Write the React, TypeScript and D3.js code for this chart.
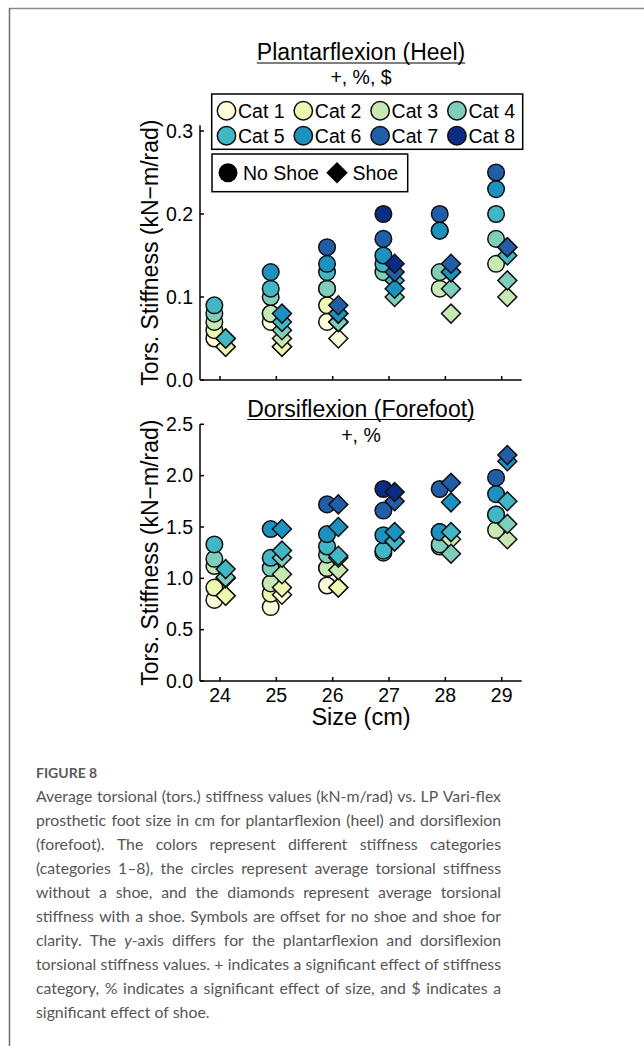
import React from "react";
import * as d3 from "d3";

const sizes = [24, 25, 26, 27, 28, 29];
const categories = ["Cat 1", "Cat 2", "Cat 3", "Cat 4", "Cat 5", "Cat 6", "Cat 7", "Cat 8"];
const catColors = ["#ffffd9", "#edf8b1", "#c7e9b4", "#7fcdbb", "#41b6c4", "#1d91c0", "#225ea8", "#0c2c84"];

type V = number | null;
// rows = categories 1..8, columns = sizes 24..29
const heelNoShoe: V[][] = [
  [0.05, 0.07, 0.07, null, null, null],
  [0.06, 0.08, 0.09, null, null, null],
  [0.07, 0.08, 0.11, null, 0.11, 0.14],
  [0.08, 0.10, 0.11, 0.13, 0.13, 0.17],
  [0.09, 0.11, 0.13, 0.14, 0.18, 0.20],
  [null, 0.13, 0.14, 0.15, 0.18, 0.23],
  [null, null, 0.16, 0.17, 0.20, 0.25],
  [null, null, null, 0.20, null, null],
];
const heelShoe: V[][] = [
  [0.04, 0.04, 0.05, null, null, null],
  [0.04, 0.04, 0.07, null, null, null],
  [0.05, 0.05, 0.07, null, 0.08, 0.10],
  [0.05, 0.06, 0.07, 0.10, 0.11, 0.12],
  [0.05, 0.07, 0.08, 0.12, 0.13, 0.15],
  [null, 0.08, 0.08, 0.11, 0.13, 0.16],
  [null, null, 0.09, 0.13, 0.14, 0.16],
  [null, null, null, 0.14, null, null],
];
const foreNoShoe: V[][] = [
  [0.79, 0.72, 0.93, null, null, null],
  [0.91, 0.85, 1.10, null, null, null],
  [1.12, 0.95, 1.10, null, 1.31, 1.47],
  [1.19, 1.10, 1.23, 1.25, 1.33, 1.62],
  [1.33, 1.20, 1.31, 1.27, 1.45, 1.62],
  [null, 1.48, 1.43, 1.42, 1.45, 1.82],
  [null, null, 1.72, 1.66, 1.87, 1.98],
  [null, null, null, 1.87, null, null],
];
const foreShoe: V[][] = [
  [0.83, 0.84, 0.91, null, null, null],
  [0.83, 0.91, 0.91, null, null, null],
  [1.00, 1.04, 1.08, null, 1.38, 1.38],
  [1.01, 1.20, 1.20, 1.36, 1.24, 1.53],
  [1.09, 1.27, 1.22, 1.36, 1.45, 1.75],
  [null, 1.48, 1.50, 1.45, 1.74, 2.14],
  [null, null, 1.72, 1.75, 1.93, 2.20],
  [null, null, null, 1.84, null, null],
];

const heelTicks = [0, 0.1, 0.2, 0.3];
const foreTicks = [0, 0.5, 1.0, 1.5, 2.0, 2.5];

const yLabel = "Tors. Stiffness (kN\u2212m/rad)";
const xLabel = "Size (cm)";
const heelTitle = "Plantarflexion (Heel)";
const heelSub = "+, %, $";
const foreTitle = "Dorsiflexion (Forefoot)";
const foreSub = "+, %";

const figureLabel = "FIGURE 8";
const captionLines = [
  "Average torsional (tors.) stiffness values (kN-m/rad) vs. LP Vari-flex",
  "prosthetic foot size in cm for plantarflexion (heel) and dorsiflexion",
  "(forefoot). The colors represent different stiffness categories",
  "(categories 1\u20138), the circles represent average torsional stiffness",
  "without a shoe, and the diamonds represent average torsional",
  "stiffness with a shoe. Symbols are offset for no shoe and shoe for",
  "clarity. The *y*-axis differs for the plantarflexion and dorsiflexion",
  "torsional stiffness values. + indicates a significant effect of stiffness",
  "category, % indicates a significant effect of size, and $ indicates a",
  "significant effect of shoe.",
];

const AX = "'Liberation Sans', Arial, Helvetica, sans-serif";
const CAP_FONT = "Lato, 'Open Sans', sans-serif";

let _ctx: CanvasRenderingContext2D | null = null;
function measure(t: string, font: string) {
  if (!_ctx) _ctx = document.createElement("canvas").getContext("2d");
  if (!_ctx) return t.length * 7;
  _ctx.font = font;
  return _ctx.measureText(t).width;
}

const xScale = d3.scaleLinear().domain([23.645, 29.355]).range([200, 521.7]);
const OFF = 0.1;
const diamondPath = d3.symbol(d3.symbolSquare, 180)() as string;
const diamondLegend = d3.symbol(d3.symbolSquare, 230)() as string;

function Title({ text, y, size }: { text: string; y: number; size: number }) {
  const w = measure(text, `${size}px ${AX}`);
  const cx = 361;
  return (
    <g>
      <text x={cx} y={y} textAnchor="middle" fontSize={size} fontFamily={AX} fill="#000">{text}</text>
      <line x1={cx - w / 2} x2={cx + w / 2} y1={y + 3} y2={y + 3} stroke="#000" strokeWidth={1.2} />
    </g>
  );
}

function Panel(props: {
  y: d3.ScaleLinear<number, number>;
  axisTop: number;
  ticks: number[];
  noShoe: V[][];
  shoe: V[][];
  showXLabels: boolean;
}) {
  const { y, axisTop, ticks, noShoe, shoe, showXLabels } = props;
  const y0 = y(0);
  const [xl, xr] = xScale.range();
  const fmt = d3.format(".1f");
  const circles: JSX.Element[] = [];
  const diamonds: JSX.Element[] = [];
  noShoe.forEach((row, ci) =>
    row.forEach((v, si) => {
      if (v == null) return;
      circles.push(
        <circle key={`c${ci}-${si}`} cx={xScale(sizes[si] - OFF)} cy={y(v)} r={8.3}
          fill={catColors[ci]} stroke="#111" strokeWidth={1.5} />
      );
    })
  );
  shoe.forEach((row, ci) =>
    row.forEach((v, si) => {
      if (v == null) return;
      diamonds.push(
        <path key={`d${ci}-${si}`} d={diamondPath}
          transform={`translate(${xScale(sizes[si] + OFF)},${y(v)}) rotate(45)`}
          fill={catColors[ci]} stroke="#111" strokeWidth={1.5} />
      );
    })
  );
  const mid = (y(0) + y(axisTop)) / 2;
  return (
    <g>
      <line x1={xl} x2={xl} y1={y0} y2={y(axisTop)} stroke="#000" strokeWidth={1.5} />
      <line x1={xl} x2={xr} y1={y0} y2={y0} stroke="#000" strokeWidth={1.5} />
      {ticks.map((t) => (
        <g key={t}>
          <line x1={xl} x2={xl + 4} y1={y(t)} y2={y(t)} stroke="#000" strokeWidth={1.5} />
          <text x={xl - 7} y={y(t)} dy="0.35em" textAnchor="end" fontSize={19.5} fontFamily={AX}>{fmt(t)}</text>
        </g>
      ))}
      {sizes.map((s) => (
        <g key={s}>
          <line x1={xScale(s)} x2={xScale(s)} y1={y0} y2={y0 - 4} stroke="#000" strokeWidth={1.5} />
          {showXLabels && (
            <text x={xScale(s)} y={y0 + 21} textAnchor="middle" fontSize={19.5} fontFamily={AX}>{s}</text>
          )}
        </g>
      ))}
      <text transform={`translate(150,${mid}) rotate(-90)`} textAnchor="middle" dy="0.35em"
        fontSize={23} fontFamily={AX}>{yLabel}</text>
      {circles}
      {diamonds}
    </g>
  );
}

function Legend() {
  const rows = [0, 1];
  return (
    <g fontFamily={AX} fontSize={19.5}>
      <rect x={211.7} y={94} width={311} height={55.3} fill="#fff" stroke="#000" strokeWidth={1.5} />
      {rows.map((r) =>
        [0, 1, 2, 3].map((c) => {
          const i = r * 4 + c;
          const cx = 226.5 + c * 76.8;
          const cy = 110.7 + r * 25;
          return (
            <g key={i}>
              <circle cx={cx} cy={cy} r={9.2} fill={catColors[i]} stroke="#111" strokeWidth={1.5} />
              <text x={cx + 11.5} y={cy} dy="0.36em">{categories[i]}</text>
            </g>
          );
        })
      )}
      <rect x={212} y={154} width={195.7} height={37.7} fill="#fff" stroke="#000" strokeWidth={1.5} />
      <circle cx={228} cy={172.7} r={9.5} fill="#000" />
      <text x={243} y={172.7} dy="0.36em">No Shoe</text>
      <path d={diamondLegend} transform="translate(337,172.7) rotate(45)" fill="#000" />
      <text x={352.5} y={172.7} dy="0.36em">Shoe</text>
    </g>
  );
}

function Caption() {
  const size = 15.8;
  const font = `${size}px ${CAP_FONT}`;
  const ifont = `italic ${size}px ${CAP_FONT}`;
  const left = 36;
  const right = 501;
  const base = 801.5;
  const lh = 24;
  return (
    <g fontFamily={CAP_FONT} fontSize={size} fill="#555">
      <text x={left} y={777.5} fontSize={14} fontWeight={700} fill="#5a5a5a">{figureLabel}</text>
      {captionLines.map((line, li) => {
        const words = line.split(" ");
        const widths = words.map((w) => {
          if (w.includes("*")) {
            const parts = w.split("*");
            return measure(parts[1], ifont) + measure(parts[2], font);
          }
          return measure(w, font);
        });
        const total = d3.sum(widths);
        const last = li === captionLines.length - 1;
        const gap = last ? measure(" ", font) : (right - left - total) / (words.length - 1);
        let xp = left;
        const y = base + li * lh;
        return (
          <text key={li} y={y}>
            {words.map((w, wi) => {
              const x0 = xp;
              xp += widths[wi] + gap;
              if (w.includes("*")) {
                const parts = w.split("*");
                return (
                  <React.Fragment key={wi}>
                    <tspan x={x0} fontStyle="italic">{parts[1]}</tspan>
                    <tspan>{parts[2]}</tspan>
                  </React.Fragment>
                );
              }
              return <tspan key={wi} x={x0}>{w}</tspan>;
            })}
          </text>
        );
      })}
    </g>
  );
}

export default function App() {
  const yHeel = d3.scaleLinear().domain([0, 0.3]).range([380, 131]);
  const yFore = d3.scaleLinear().domain([0, 2.5]).range([681, 424.3]);
  return (
    <svg width={644} height={1046} style={{ position: "absolute", left: 0, top: 0, background: "#fff" }}>
      <rect x={0} y={0} width={644} height={1046} fill="#fff" />
      <line x1={9} x2={644} y1={8.5} y2={8.5} stroke="#8a8a8a" strokeWidth={1.5} />
      <line x1={9.5} x2={9.5} y1={8} y2={1046} stroke="#6e6e6e" strokeWidth={1.5} />

      <Title text={heelTitle} y={60} size={23} />
      <text x={361} y={84} textAnchor="middle" fontSize={19.5} fontFamily={AX}>{heelSub}</text>
      <Panel y={yHeel} axisTop={0.307} ticks={heelTicks} noShoe={heelNoShoe} shoe={heelShoe} showXLabels={false} />
      <Legend />

      <Title text={foreTitle} y={416.5} size={23} />
      <text x={361} y={442} textAnchor="middle" fontSize={19.5} fontFamily={AX}>{foreSub}</text>
      <Panel y={yFore} axisTop={2.5} ticks={foreTicks} noShoe={foreNoShoe} shoe={foreShoe} showXLabels={true} />
      <text x={361} y={725} textAnchor="middle" fontSize={23.5} fontFamily={AX}>{xLabel}</text>

      <Caption />
    </svg>
  );
}
